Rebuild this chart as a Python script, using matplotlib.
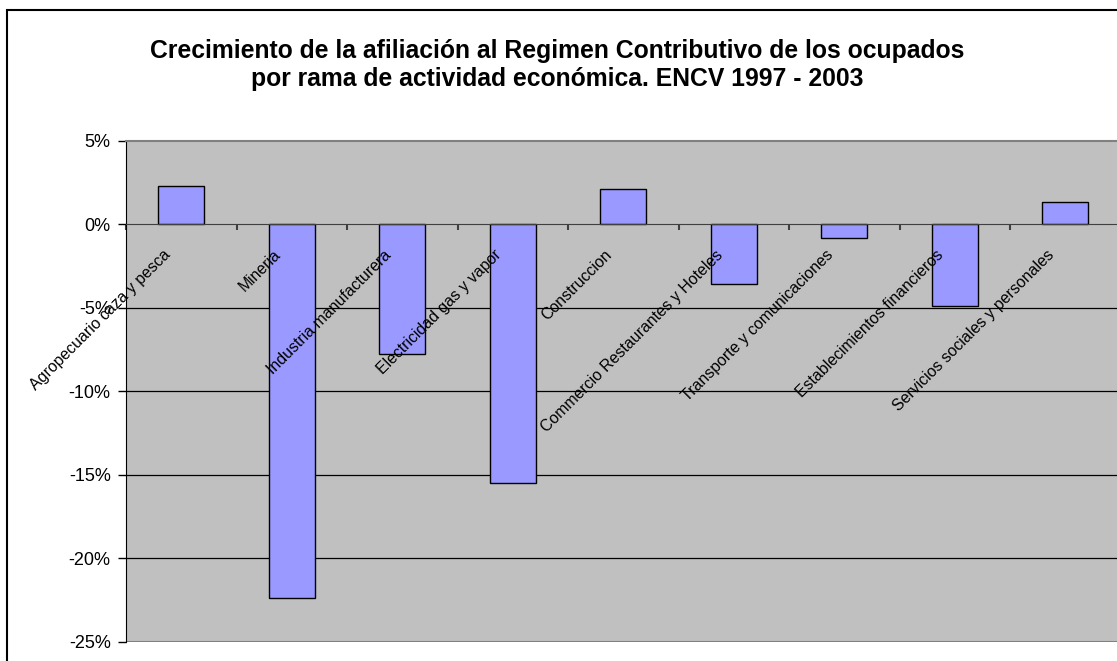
import numpy as np
import matplotlib.pyplot as plt
from matplotlib.patches import Rectangle
from matplotlib.ticker import FuncFormatter

plt.rcParams['font.family'] = ['Liberation Sans', 'DejaVu Sans']

ramas = ['Agropecuario caza y pesca', 'Mineria', 'Industria manufacturera',
         'Electricidad gas y vapor', 'Construccion',
         'Commercio Restaurantes y Hoteles', 'Transporte y comunicaciones',
         'Establecimientos financieros', 'Servicios sociales y personales']
crecimiento = [0.023, -0.224, -0.078, -0.155, 0.021, -0.036, -0.008, -0.049, 0.013]
yticks = [0.05, 0.0, -0.05, -0.10, -0.15, -0.20, -0.25]

W, H = 1117, 661
fig = plt.figure(figsize=(W / 100, H / 100), dpi=100)
fig.patch.set_facecolor('white')

# borde del grafico (estilo Excel)
fig.patches.append(Rectangle((7 / W, -0.02), 1.05, 1 - 10 / H + 0.02,
                             transform=fig.transFigure, fill=False,
                             edgecolor='black', linewidth=1.5))

ax = fig.add_axes([126 / W, 1 - 641.7 / H, 994.5 / W, 501 / H])
ax.set_facecolor('#c0c0c0')

x = np.arange(len(ramas))
ax.bar(x, crecimiento, width=0.42, color='#9999ff', edgecolor='black',
       linewidth=1, zorder=3)

ax.set_xlim(-0.5, len(ramas) - 0.5)
ax.set_ylim(-0.25, 0.05)
ax.set_yticks(yticks)
ax.yaxis.set_major_formatter(FuncFormatter(lambda v, p: '%d%%' % round(v * 100)))
ax.tick_params(axis='y', direction='out', length=6, width=1, pad=5,
               labelsize=13, color='black')
for v in yticks[2:-1]:
    ax.axhline(v, color='black', linewidth=0.9, zorder=1)

# eje de categorias en cero
ax.spines['bottom'].set_position(('data', 0))
ax.spines['bottom'].set_color('#404040')
ax.spines['bottom'].set_zorder(4)
ax.set_xticks(np.arange(len(ramas) + 1) - 0.5)
ax.set_xticklabels([])
ax.tick_params(axis='x', direction='out', length=4, width=1.5, color='#404040')
ax.axhline(-0.25, color='#808080', linewidth=1.5, zorder=1)
ax.spines['top'].set_color('#808080')
ax.spines['top'].set_linewidth(1.5)
ax.spines['right'].set_visible(False)
ax.spines['left'].set_color('black')

for i, nombre in enumerate(ramas):
    ax.annotate(nombre, xy=(i, 0), xytext=(-8, -23), textcoords='offset pixels',
                rotation=45, ha='right', va='top', fontsize=11.4, zorder=5,
                annotation_clip=False)

fig.text(0.499, 1 - 65 / H,
         'Crecimiento de la afiliación al Regimen Contributivo de los ocupados\n'
         'por rama de actividad económica. ENCV 1997 - 2003',
         ha='center', va='center', fontsize=17.8, fontweight='bold',
         linespacing=1.25)

fig.savefig('out.png', dpi=100)
